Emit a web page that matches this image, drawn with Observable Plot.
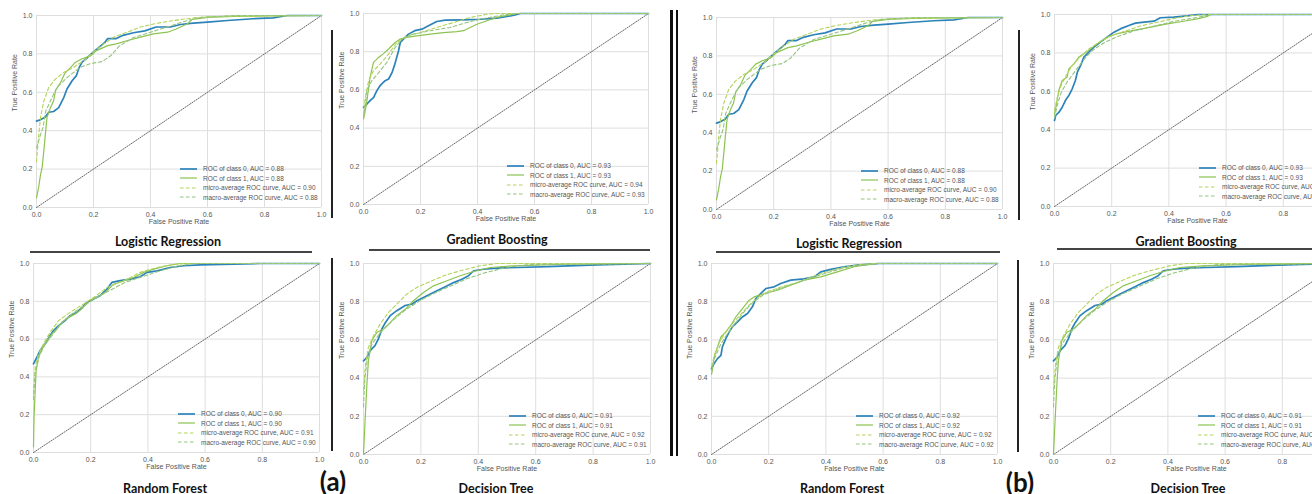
<!DOCTYPE html>
<html><head><meta charset="utf-8">
<script src="https://cdn.jsdelivr.net/npm/d3@7"></script>
<script src="https://cdn.jsdelivr.net/npm/@observablehq/plot@0.6"></script>
<style>
html,body{margin:0;padding:0;background:#fff;}
body{width:1312px;height:494px;overflow:hidden;position:relative;font-family:"Liberation Sans",Arial,sans-serif;}
.abs{position:absolute;}
.title{position:absolute;font-family:Lato,"Open Sans",sans-serif;font-weight:700;font-size:12.5px;color:#111;transform:translate(-50%,-50%);white-space:nowrap;}
.tag{position:absolute;font-family:Lato,"Open Sans",sans-serif;font-weight:700;font-size:26px;color:#111;transform:translate(-50%,-50%);white-space:nowrap;}
.legend{position:absolute;font-family:"Liberation Sans",Arial,sans-serif;font-size:6.5px;color:#555;white-space:nowrap;}
.legend .row{height:9.5px;display:flex;align-items:center;}
.legend svg{margin-right:6px;}
</style>
</head><body>
<script>
// ---------- data ----------
const axisTicks = [0, 0.2, 0.4, 0.6, 0.8, 1.0];
const chanceLine = [[0, 0], [1, 1]];
const seriesNames = ["ROC of class 0", "ROC of class 1", "micro-average ROC curve", "macro-average ROC curve"];
const panelTitles = ["Logistic Regression", "Gradient Boosting", "Random Forest", "Decision Tree"];
const groupTags = ["(a)", "(b)"];

// Logistic Regression (same in (a) and (b))
const lrClass0 = [[0,0.45],[0.01,0.455],[0.03,0.47],[0.043,0.496],[0.06,0.50],[0.078,0.52],[0.096,0.574],[0.107,0.617],[0.125,0.66],[0.14,0.687],[0.15,0.73],[0.16,0.757],[0.178,0.78],[0.2,0.81],[0.22,0.835],[0.24,0.86],[0.25,0.88],[0.28,0.88],[0.30,0.895],[0.34,0.91],[0.38,0.92],[0.42,0.94],[0.47,0.94],[0.505,0.953],[0.55,0.96],[0.60,0.965],[0.67,0.974],[0.76,0.983],[0.83,0.988],[0.88,1.0],[1,1]];
const lrClass1 = [[0,0.05],[0.008,0.11],[0.014,0.17],[0.02,0.21],[0.026,0.30],[0.03,0.365],[0.037,0.47],[0.049,0.52],[0.06,0.556],[0.067,0.61],[0.084,0.65],[0.10,0.70],[0.12,0.73],[0.137,0.757],[0.16,0.775],[0.19,0.79],[0.21,0.817],[0.25,0.843],[0.28,0.852],[0.32,0.87],[0.365,0.887],[0.41,0.904],[0.46,0.913],[0.49,0.93],[0.53,0.957],[0.546,0.98],[0.60,0.99],[0.69,0.995],[0.81,0.998],[1,1]];
const lrMicro = [[0,0.24],[0.008,0.38],[0.014,0.47],[0.026,0.556],[0.043,0.626],[0.067,0.67],[0.096,0.704],[0.13,0.73],[0.166,0.765],[0.2,0.81],[0.236,0.852],[0.27,0.887],[0.318,0.913],[0.365,0.94],[0.424,0.96],[0.482,0.974],[0.552,0.988],[0.634,0.995],[1,1]];
const lrMacro = [[0,0.31],[0.014,0.38],[0.023,0.417],[0.032,0.50],[0.049,0.556],[0.072,0.626],[0.108,0.678],[0.154,0.73],[0.19,0.75],[0.23,0.76],[0.26,0.79],[0.29,0.84],[0.34,0.885],[0.40,0.913],[0.458,0.94],[0.529,0.974],[0.575,0.99],[0.7,1],[1,1]];
const lrAuc = [0.88, 0.88, 0.90, 0.88];

// Gradient Boosting (a)
const gbaClass0 = [[0,0.509],[0.012,0.526],[0.023,0.544],[0.035,0.56],[0.047,0.596],[0.058,0.622],[0.076,0.648],[0.088,0.657],[0.10,0.69],[0.11,0.735],[0.123,0.805],[0.129,0.848],[0.146,0.875],[0.158,0.892],[0.18,0.91],[0.205,0.918],[0.228,0.936],[0.257,0.958],[0.287,0.965],[0.35,0.967],[0.41,0.97],[0.468,0.976],[0.515,0.988],[0.532,0.993],[0.55,1],[1,1]];
const gbaClass1 = [[0,0.448],[0.004,0.474],[0.012,0.544],[0.023,0.666],[0.035,0.744],[0.053,0.77],[0.07,0.79],[0.088,0.814],[0.111,0.848],[0.129,0.866],[0.152,0.875],[0.187,0.883],[0.234,0.892],[0.281,0.90],[0.327,0.905],[0.351,0.91],[0.374,0.927],[0.398,0.944],[0.433,0.962],[0.468,0.98],[0.515,0.993],[0.538,1],[1,1]];
const gbaMicro = [[0,0.47],[0.006,0.56],[0.018,0.648],[0.035,0.70],[0.058,0.735],[0.088,0.787],[0.117,0.848],[0.152,0.883],[0.199,0.90],[0.257,0.927],[0.316,0.953],[0.374,0.979],[0.433,0.996],[0.46,1],[1,1]];
const gbaMacro = [[0,0.45],[0.012,0.596],[0.029,0.648],[0.053,0.69],[0.082,0.744],[0.111,0.822],[0.135,0.866],[0.175,0.892],[0.234,0.91],[0.304,0.927],[0.363,0.953],[0.409,0.97],[0.491,0.993],[0.538,1],[1,1]];
const gbaAuc = [0.93, 0.93, 0.94, 0.93];

// Random Forest (a)
const rfaClass0 = [[0,0.469],[0.012,0.504],[0.023,0.54],[0.041,0.575],[0.058,0.619],[0.07,0.645],[0.088,0.671],[0.11,0.698],[0.128,0.724],[0.152,0.742],[0.17,0.768],[0.187,0.794],[0.21,0.812],[0.233,0.83],[0.257,0.865],[0.274,0.90],[0.303,0.909],[0.338,0.917],[0.373,0.93],[0.397,0.953],[0.432,0.961],[0.478,0.979],[0.525,0.988],[0.583,0.993],[0.70,0.996],[0.793,1],[1,1]];
const rfaClass1 = [[0,0.03],[0.002,0.19],[0.006,0.33],[0.009,0.43],[0.017,0.50],[0.029,0.548],[0.047,0.592],[0.064,0.627],[0.082,0.654],[0.099,0.689],[0.123,0.715],[0.146,0.733],[0.169,0.76],[0.193,0.803],[0.222,0.821],[0.251,0.847],[0.28,0.89],[0.315,0.908],[0.35,0.926],[0.385,0.953],[0.42,0.97],[0.467,0.988],[0.513,1],[1,1]];
const rfaMicro = [[0,0.31],[0.006,0.45],[0.017,0.52],[0.035,0.575],[0.058,0.636],[0.088,0.698],[0.128,0.742],[0.175,0.786],[0.21,0.82],[0.257,0.873],[0.315,0.908],[0.373,0.953],[0.432,0.979],[0.49,0.996],[0.55,1],[1,1]];
const rfaMacro = [[0,0.28],[0.005,0.42],[0.02,0.51],[0.04,0.57],[0.07,0.63],[0.1,0.69],[0.14,0.74],[0.18,0.78],[0.22,0.82],[0.27,0.86],[0.32,0.9],[0.38,0.93],[0.44,0.96],[0.5,0.985],[0.56,1],[1,1]];
const rfaAuc = [0.90, 0.90, 0.91, 0.90];

// Decision Tree (same in (a) and (b))
const dtClass0 = [[0,0.49],[0.012,0.509],[0.023,0.544],[0.04,0.57],[0.052,0.605],[0.064,0.657],[0.076,0.69],[0.093,0.727],[0.116,0.753],[0.145,0.78],[0.169,0.787],[0.186,0.805],[0.209,0.822],[0.233,0.84],[0.256,0.857],[0.285,0.878],[0.314,0.90],[0.343,0.918],[0.366,0.936],[0.384,0.962],[0.419,0.97],[0.465,0.976],[0.535,0.979],[0.64,0.984],[0.814,0.993],[1,1]];
const dtClass1 = [[0,0.0],[0.006,0.195],[0.012,0.37],[0.017,0.49],[0.029,0.596],[0.047,0.64],[0.07,0.657],[0.093,0.69],[0.116,0.727],[0.145,0.76],[0.174,0.805],[0.209,0.848],[0.244,0.883],[0.291,0.91],[0.337,0.936],[0.384,0.958],[0.442,0.979],[0.523,0.988],[0.698,0.996],[1,1]];
const dtMicro = [[0,0.335],[0.007,0.474],[0.017,0.56],[0.035,0.622],[0.058,0.683],[0.087,0.744],[0.116,0.787],[0.151,0.84],[0.186,0.875],[0.233,0.906],[0.279,0.936],[0.337,0.962],[0.407,0.988],[0.465,1],[1,1]];
const dtMacro = [[0,0.25],[0.005,0.4],[0.015,0.52],[0.03,0.58],[0.06,0.64],[0.1,0.7],[0.14,0.75],[0.19,0.8],[0.24,0.84],[0.3,0.88],[0.36,0.92],[0.42,0.95],[0.5,0.98],[0.58,0.995],[1,1]];
const dtAuc = [0.91, 0.91, 0.92, 0.91];

// Gradient Boosting (b)
const gbbClass0 = [[0,0.448],[0.004,0.474],[0.015,0.49],[0.027,0.517],[0.038,0.552],[0.05,0.578],[0.062,0.613],[0.073,0.656],[0.08,0.70],[0.091,0.734],[0.103,0.778],[0.12,0.804],[0.138,0.83],[0.16,0.856],[0.184,0.882],[0.208,0.908],[0.23,0.925],[0.26,0.943],[0.283,0.955],[0.313,0.96],[0.348,0.965],[0.37,0.983],[0.417,0.986],[0.464,0.993],[0.50,1],[1,1]];
const gbbClass1 = [[0,0.48],[0.007,0.535],[0.015,0.604],[0.027,0.656],[0.044,0.674],[0.05,0.717],[0.068,0.743],[0.085,0.778],[0.103,0.795],[0.126,0.821],[0.149,0.847],[0.184,0.882],[0.219,0.90],[0.277,0.917],[0.336,0.934],[0.394,0.951],[0.452,0.965],[0.499,0.977],[0.534,0.99],[0.546,1],[1,1]];
const gbbMicro = [[0,0.5],[0.01,0.57],[0.02,0.62],[0.04,0.68],[0.06,0.73],[0.09,0.78],[0.12,0.82],[0.16,0.86],[0.2,0.89],[0.25,0.915],[0.3,0.94],[0.36,0.96],[0.42,0.98],[0.48,0.995],[0.54,1],[1,1]];
const gbbMacro = [[0,0.46],[0.01,0.53],[0.025,0.6],[0.045,0.65],[0.07,0.7],[0.1,0.76],[0.13,0.81],[0.17,0.85],[0.22,0.885],[0.28,0.915],[0.35,0.94],[0.42,0.965],[0.5,0.985],[0.55,1],[1,1]];
const gbbAuc = [0.93, 0.93, 0.94, 0.93];

// Random Forest (b)
const rfbClass0 = [[0,0.449],[0.009,0.476],[0.021,0.502],[0.033,0.519],[0.038,0.563],[0.05,0.607],[0.062,0.642],[0.073,0.668],[0.091,0.694],[0.108,0.72],[0.126,0.738],[0.143,0.773],[0.155,0.816],[0.172,0.843],[0.19,0.869],[0.219,0.878],[0.242,0.895],[0.277,0.913],[0.324,0.92],[0.359,0.93],[0.382,0.956],[0.417,0.969],[0.464,0.983],[0.51,0.991],[0.557,0.997],[0.586,1],[1,1]];
const rfbClass1 = [[0,0.42],[0.003,0.44],[0.009,0.51],[0.021,0.563],[0.033,0.615],[0.05,0.642],[0.068,0.677],[0.085,0.72],[0.108,0.764],[0.132,0.808],[0.149,0.825],[0.184,0.843],[0.231,0.86],[0.277,0.886],[0.324,0.913],[0.382,0.93],[0.44,0.956],[0.499,0.983],[0.557,0.997],[0.58,1],[1,1]];
const rfbMicro = [[0,0.46],[0.01,0.52],[0.025,0.58],[0.045,0.63],[0.07,0.68],[0.1,0.73],[0.13,0.78],[0.16,0.82],[0.2,0.855],[0.25,0.88],[0.3,0.9],[0.35,0.93],[0.4,0.955],[0.46,0.98],[0.52,0.995],[0.58,1],[1,1]];
const rfbMacro = [[0,0.44],[0.01,0.5],[0.03,0.57],[0.05,0.62],[0.08,0.68],[0.11,0.74],[0.14,0.79],[0.18,0.835],[0.23,0.865],[0.28,0.89],[0.34,0.92],[0.4,0.95],[0.46,0.975],[0.53,0.993],[0.58,1],[1,1]];
const rfbAuc = [0.92, 0.92, 0.92, 0.92];

// ---------- styling / layout ----------
const seriesStyle = [
  {stroke: "#2b83ba", strokeWidth: 1.7, dash: null},
  {stroke: "#8dc351", strokeWidth: 1.2, dash: null},
  {stroke: "#b3d45a", strokeWidth: 1.1, dash: "3.5,2.5"},
  {stroke: "#93c47d", strokeWidth: 1.1, dash: "3.5,2.5"}
];
// plot-area boxes (left, top, width, height)
const panels = [
  {title: 0, curves: [lrClass0, lrClass1, lrMicro, lrMacro], auc: lrAuc, x: 36, y: 15, w: 285, h: 192, tx: 168, ty: 241},
  {title: 1, curves: [gbaClass0, gbaClass1, gbaMicro, gbaMacro], auc: gbaAuc, x: 363, y: 13, w: 285, h: 191, tx: 497, ty: 239},
  {title: 2, curves: [rfaClass0, rfaClass1, rfaMicro, rfaMacro], auc: rfaAuc, x: 33, y: 263, w: 286, h: 189, tx: 165, ty: 488},
  {title: 3, curves: [dtClass0, dtClass1, dtMicro, dtMacro], auc: dtAuc, x: 363, y: 263, w: 287, h: 191, tx: 496, ty: 488},
  {title: 0, curves: [lrClass0, lrClass1, lrMicro, lrMacro], auc: lrAuc, x: 716, y: 17, w: 286, h: 192, tx: 849, ty: 243},
  {title: 1, curves: [gbbClass0, gbbClass1, gbbMicro, gbbMacro], auc: gbbAuc, x: 1054, y: 14, w: 286, h: 192, tx: 1186, ty: 241},
  {title: 2, curves: [rfbClass0, rfbClass1, rfbMicro, rfbMacro], auc: rfbAuc, x: 711, y: 263, w: 286, h: 191, tx: 842, ty: 488},
  {title: 3, curves: [dtClass0, dtClass1, dtMicro, dtMacro], auc: dtAuc, x: 1053, y: 263, w: 286, h: 191, tx: 1188, ty: 488}
];
const rules = [
  // horizontal rules under top-row titles
  {x: 30, y: 251, w: 282, h: 2, c: "#444"},
  {x: 369, y: 249, w: 281, h: 2, c: "#444"},
  {x: 716, y: 251, w: 284, h: 2, c: "#444"},
  {x: 1057, y: 248, w: 255, h: 2, c: "#444"},
  // thin vertical separators
  {x: 331, y: 30, w: 1.5, h: 188, c: "#222"},
  {x: 331, y: 258, w: 1.5, h: 193, c: "#222"},
  {x: 1018, y: 30, w: 1.5, h: 190, c: "#222"},
  {x: 1017, y: 260, w: 1.5, h: 192, c: "#222"},
  // double rule between (a) and (b)
  {x: 670, y: 10, w: 2.5, h: 446, c: "#111"},
  {x: 675.5, y: 10, w: 2.5, h: 446, c: "#111"}
];
const tagPos = [{x: 333, y: 481}, {x: 1020, y: 482}];

const fmt = d3.format(".1f");
const mL = 40, mR = 10, mT = 6, mB = 30;

function makePanel(p) {
  const curveMarks = p.curves.map((c, i) => Plot.line(c, {
    x: d => d[0], y: d => d[1],
    stroke: seriesStyle[i].stroke, strokeWidth: seriesStyle[i].strokeWidth,
    strokeDasharray: seriesStyle[i].dash || undefined
  }));
  const svg = Plot.plot({
    width: p.w + mL + mR, height: p.h + mT + mB,
    marginLeft: mL, marginRight: mR, marginTop: mT, marginBottom: mB,
    style: {fontFamily: "'Liberation Sans', Arial, sans-serif", fontSize: "7px", color: "#555", background: "transparent", overflow: "visible"},
    x: {domain: [0, 1]},
    y: {domain: [0, 1]},
    marks: [
      Plot.gridX(axisTicks, {stroke: "#dedede", strokeOpacity: 1, strokeWidth: 1}),
      Plot.gridY(axisTicks, {stroke: "#dedede", strokeOpacity: 1, strokeWidth: 1}),
      Plot.axisX(axisTicks, {tickSize: 0, tickPadding: 5, tickFormat: fmt, label: null, fill: "#555"}),
      Plot.axisY(axisTicks, {tickSize: 0, tickPadding: 4, tickFormat: fmt, label: null, fill: "#555"}),
      Plot.text(["False Positive Rate"], {text: d => d, frameAnchor: "bottom", dy: 16, fill: "#555", fontSize: 7}),
      Plot.text(["True Positive Rate"], {text: d => d, frameAnchor: "left", rotate: -90, dx: -22, fill: "#555", fontSize: 7}),
      Plot.line(chanceLine, {x: d => d[0], y: d => d[1], stroke: "#555", strokeWidth: 0.9, strokeDasharray: "1.2,1.4"}),
      ...curveMarks
    ]
  });
  svg.style.position = "absolute";
  svg.style.left = (p.x - mL) + "px";
  svg.style.top = (p.y - mT) + "px";
  document.body.appendChild(svg);

  // legend (lower right inside plot area)
  const lg = document.createElement("div");
  lg.className = "legend";
  lg.style.left = (p.x + p.w - 141) + "px";
  lg.style.top = (p.y + p.h - 43) + "px";
  seriesNames.forEach((name, i) => {
    const row = document.createElement("div");
    row.className = "row";
    const s = seriesStyle[i];
    row.innerHTML = `<svg width="17" height="4"><line x1="0" y1="2" x2="17" y2="2" stroke="${s.stroke}" stroke-width="${s.strokeWidth}" ${s.dash ? `stroke-dasharray="${s.dash}"` : ""}/></svg><span>${name}, AUC = ${p.auc[i].toFixed(2)}</span>`;
    lg.appendChild(row);
  });
  document.body.appendChild(lg);

  const t = document.createElement("div");
  t.className = "title";
  t.textContent = panelTitles[p.title];
  t.style.left = p.tx + "px";
  t.style.top = p.ty + "px";
  document.body.appendChild(t);
}

panels.forEach(makePanel);

rules.forEach(r => {
  const d = document.createElement("div");
  d.className = "abs";
  Object.assign(d.style, {left: r.x + "px", top: r.y + "px", width: r.w + "px", height: r.h + "px", background: r.c});
  document.body.appendChild(d);
});

groupTags.forEach((g, i) => {
  const d = document.createElement("div");
  d.className = "tag";
  d.textContent = g;
  d.style.left = tagPos[i].x + "px";
  d.style.top = tagPos[i].y + "px";
  document.body.appendChild(d);
});
</script>
</body></html>
